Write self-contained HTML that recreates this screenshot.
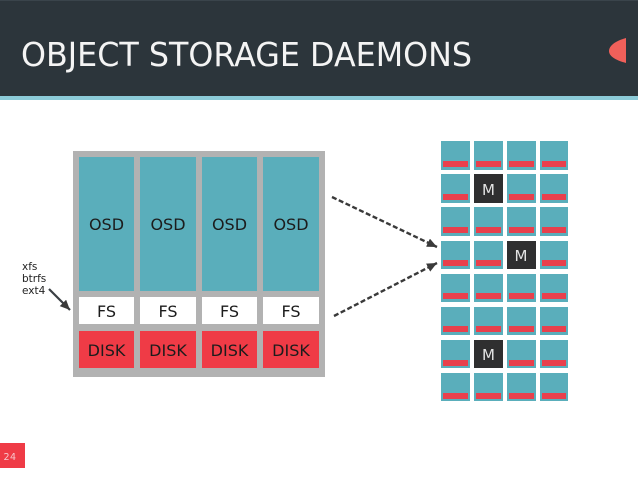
<!DOCTYPE html>
<html>
<head>
<meta charset="utf-8">
<style>
html,body{margin:0;padding:0;background:#fff;width:638px;height:479px;overflow:hidden}
svg{display:block}
text{font-family:"DejaVu Sans",sans-serif}
</style>
</head>
<body>
<svg width="638" height="479" viewBox="0 0 638 479" xmlns="http://www.w3.org/2000/svg">
<defs>
<marker id="ah" markerUnits="userSpaceOnUse" markerWidth="12" markerHeight="10" refX="10" refY="4.5" orient="auto"><path d="M0 0L10 4.5L0 9z" fill="#3a3a3a"/></marker>
</defs>
<rect width="638" height="479" fill="#fff"/>
<rect width="638" height="96" fill="#2c353b"/>
<rect y="0" width="638" height="1" fill="#3a444b"/>
<rect y="96" width="638" height="4" fill="#8ccbd8"/>
<text x="21" y="66" font-size="32.500" fill="#f4f4f4" textLength="451" lengthAdjust="spacingAndGlyphs">OBJECT STORAGE DAEMONS</text>
<path d="M626 38C615 41 609 46 609 51C609 56 615 60 626 63Z" fill="#f0605a"/>

<rect x="73" y="151" width="252" height="226" fill="#b2b2b2"/>
<g fill="#5aaebb">
<rect x="79" y="157" width="55" height="134"/>
<rect x="140" y="157" width="56" height="134"/>
<rect x="202" y="157" width="55" height="134"/>
<rect x="263" y="157" width="56" height="134"/>
</g>
<g fill="#fff">
<rect x="79" y="297" width="55" height="27"/>
<rect x="140" y="297" width="56" height="27"/>
<rect x="202" y="297" width="55" height="27"/>
<rect x="263" y="297" width="56" height="27"/>
</g>
<g fill="#ef3b46">
<rect x="79" y="331" width="55" height="37"/>
<rect x="140" y="331" width="56" height="37"/>
<rect x="202" y="331" width="55" height="37"/>
<rect x="263" y="331" width="56" height="37"/>
</g>
<g font-size="16" fill="#1c1c1c" text-anchor="middle">
<text x="106.500" y="230">OSD</text>
<text x="168" y="230">OSD</text>
<text x="229.500" y="230">OSD</text>
<text x="291" y="230">OSD</text>
<text x="106.500" y="317">FS</text>
<text x="168" y="317">FS</text>
<text x="229.500" y="317">FS</text>
<text x="291" y="317">FS</text>
<text x="106.500" y="356">DISK</text>
<text x="168" y="356">DISK</text>
<text x="229.500" y="356">DISK</text>
<text x="291" y="356">DISK</text>
</g>

<g font-size="10.500" fill="#222">
<text x="22" y="270">xfs</text>
<text x="22" y="282">btrfs</text>
<text x="22" y="294">ext4</text>
</g>
<line x1="49" y1="289" x2="70" y2="310" stroke="#3a3f44" stroke-width="2.200" marker-end="url(#ah)"/>

<line x1="332" y1="197" x2="437" y2="247" stroke="#3a3a3a" stroke-width="2.400" stroke-dasharray="5 2.500" marker-end="url(#ah)"/>
<line x1="334" y1="316" x2="437" y2="263" stroke="#3a3a3a" stroke-width="2.400" stroke-dasharray="5 2.500" marker-end="url(#ah)"/>

<g fill="#5aaebb">
<rect x="441" y="141" width="29" height="29"/><rect x="474" y="141" width="29" height="29"/><rect x="507" y="141" width="29" height="29"/><rect x="540" y="141" width="28" height="29"/>
<rect x="441" y="174" width="29" height="29"/><rect x="507" y="174" width="29" height="29"/><rect x="540" y="174" width="28" height="29"/>
<rect x="441" y="207" width="29" height="29"/><rect x="474" y="207" width="29" height="29"/><rect x="507" y="207" width="29" height="29"/><rect x="540" y="207" width="28" height="29"/>
<rect x="441" y="241" width="29" height="28"/><rect x="474" y="241" width="29" height="28"/><rect x="540" y="241" width="28" height="28"/>
<rect x="441" y="274" width="29" height="28"/><rect x="474" y="274" width="29" height="28"/><rect x="507" y="274" width="29" height="28"/><rect x="540" y="274" width="28" height="28"/>
<rect x="441" y="307" width="29" height="28"/><rect x="474" y="307" width="29" height="28"/><rect x="507" y="307" width="29" height="28"/><rect x="540" y="307" width="28" height="28"/>
<rect x="441" y="340" width="29" height="28"/><rect x="507" y="340" width="29" height="28"/><rect x="540" y="340" width="28" height="28"/>
<rect x="441" y="373" width="29" height="28"/><rect x="474" y="373" width="29" height="28"/><rect x="507" y="373" width="29" height="28"/><rect x="540" y="373" width="28" height="28"/>
</g>
<g fill="#e8404c">
<rect x="443" y="161" width="25" height="6"/><rect x="476" y="161" width="25" height="6"/><rect x="509" y="161" width="25" height="6"/><rect x="542" y="161" width="24" height="6"/>
<rect x="443" y="194" width="25" height="6"/><rect x="509" y="194" width="25" height="6"/><rect x="542" y="194" width="24" height="6"/>
<rect x="443" y="227" width="25" height="6"/><rect x="476" y="227" width="25" height="6"/><rect x="509" y="227" width="25" height="6"/><rect x="542" y="227" width="24" height="6"/>
<rect x="443" y="260" width="25" height="6"/><rect x="476" y="260" width="25" height="6"/><rect x="542" y="260" width="24" height="6"/>
<rect x="443" y="293" width="25" height="6"/><rect x="476" y="293" width="25" height="6"/><rect x="509" y="293" width="25" height="6"/><rect x="542" y="293" width="24" height="6"/>
<rect x="443" y="326" width="25" height="6"/><rect x="476" y="326" width="25" height="6"/><rect x="509" y="326" width="25" height="6"/><rect x="542" y="326" width="24" height="6"/>
<rect x="443" y="360" width="25" height="6"/><rect x="509" y="360" width="25" height="6"/><rect x="542" y="360" width="24" height="6"/>
<rect x="443" y="393" width="25" height="6"/><rect x="476" y="393" width="25" height="6"/><rect x="509" y="393" width="25" height="6"/><rect x="542" y="393" width="24" height="6"/>
</g>
<g fill="#2f2f30">
<rect x="474" y="174" width="29" height="29"/>
<rect x="507" y="241" width="29" height="28"/>
<rect x="474" y="340" width="29" height="28"/>
</g>
<g font-size="15" fill="#e4e4e4" text-anchor="middle">
<text x="488.500" y="195">M</text>
<text x="521" y="261">M</text>
<text x="488.500" y="360">M</text>
</g>

<rect x="0" y="443" width="25" height="25" fill="#ef3b46"/>
<text x="10" y="460" font-size="9.500" fill="#f6c8cc" text-anchor="middle" letter-spacing="0.500">24</text>
</svg>
</body>
</html>
